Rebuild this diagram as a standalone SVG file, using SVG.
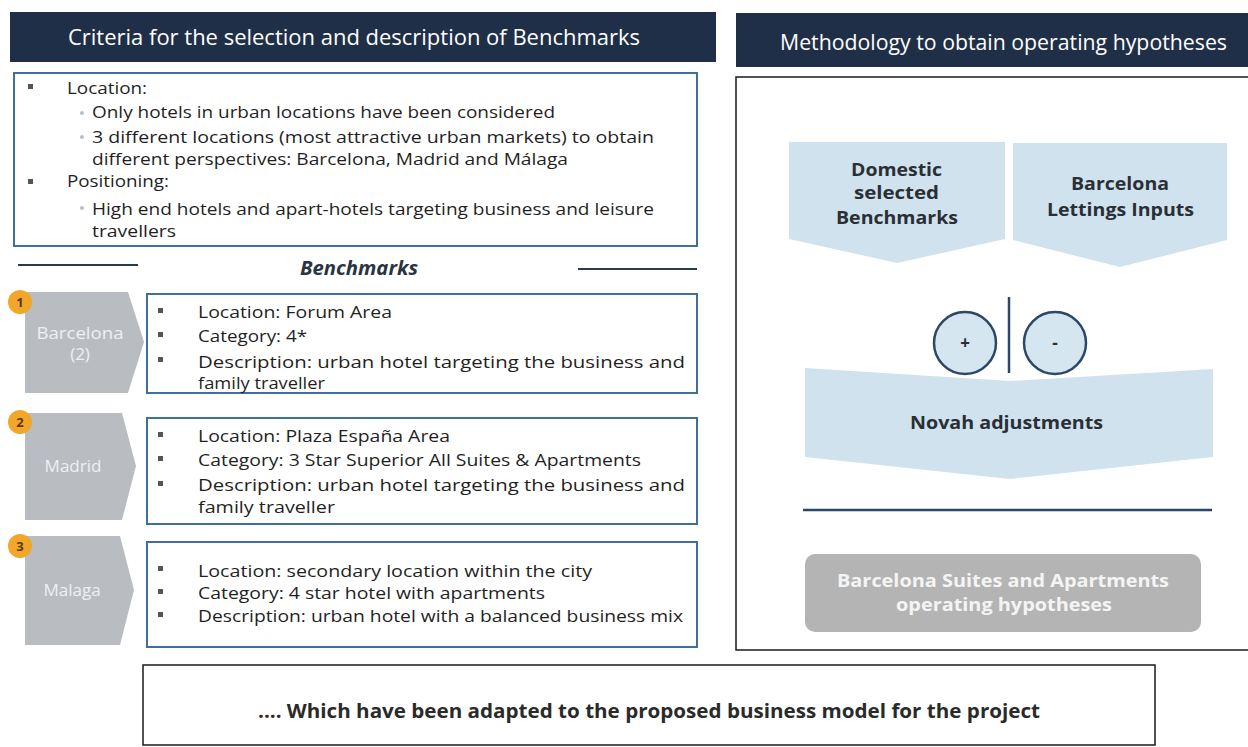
<svg xmlns="http://www.w3.org/2000/svg" width="1248" height="747" viewBox="0 0 1248 747">
<style>
text{font-family:"Open Sans","Noto Sans","Liberation Sans",sans-serif;fill:#1f1f1f}
.hdr{fill:#1f2f47}
.hdrt{fill:#ffffff;font-size:21.5px}
.box{fill:#fff;stroke:#3f6f9c;stroke-width:2}
.body{font-size:17px}
.bul{fill:#555}
.sub{fill:#b5c0c8}
.chev{fill:#b9bdc2}
.chevt{fill:#eef0f2;font-size:17px;text-anchor:middle}
.num{fill:#f2a62a}
.numt{font-size:13px;font-weight:bold;text-anchor:middle;fill:#5a3a00}
.lb{fill:#d0e2ed}
.bold{font-weight:bold;font-size:17.5px;fill:#2a2f36}
.navy{stroke:#2b4866;stroke-width:2.5;fill:none}
</style>

<g id="criteria-header">
<rect class="hdr" x="10" y="12" width="706" height="50"/>
<text class="hdrt" x="68" y="45" textLength="572" lengthAdjust="spacingAndGlyphs">Criteria for the selection and description of Benchmarks</text>
</g>

<g id="criteria">
<rect class="box" x="14" y="73" width="683" height="173"/>
<rect class="bul" x="28" y="84" width="5" height="5"/>
<text class="body" x="67" y="94" textLength="80" lengthAdjust="spacingAndGlyphs">Location:</text>
<circle class="sub" cx="82" cy="113" r="2"/>
<text class="body" x="92" y="118" textLength="463" lengthAdjust="spacingAndGlyphs">Only hotels in urban locations have been considered</text>
<circle class="sub" cx="82" cy="137" r="2"/>
<text class="body" x="92" y="143" textLength="562" lengthAdjust="spacingAndGlyphs">3 different locations (most attractive urban markets) to obtain</text>
<text class="body" x="92" y="165" textLength="476" lengthAdjust="spacingAndGlyphs">different perspectives: Barcelona, Madrid and Málaga</text>
<rect class="bul" x="28" y="179" width="5" height="5"/>
<text class="body" x="67" y="187" textLength="102" lengthAdjust="spacingAndGlyphs">Positioning:</text>
<circle class="sub" cx="82" cy="208" r="2"/>
<text class="body" x="92" y="215" textLength="562" lengthAdjust="spacingAndGlyphs">High end hotels and apart-hotels targeting business and leisure</text>
<text class="body" x="92" y="237" textLength="84" lengthAdjust="spacingAndGlyphs">travellers</text>
</g>

<g id="benchmarks-title">
<line x1="18" y1="265" x2="138" y2="265" stroke="#2a3a50" stroke-width="2"/>
<line x1="578" y1="269" x2="697" y2="269" stroke="#2a3a50" stroke-width="2"/>
<text x="300" y="275" textLength="118" lengthAdjust="spacingAndGlyphs" style="font-size:20px;font-weight:bold;font-style:italic;fill:#2a3340">Benchmarks</text>
</g>

<g id="bench-1">
<polygon class="chev" points="25,292 128,292 144,342 128,393 25,393"/>
<circle class="num" cx="20" cy="302" r="12"/>
<text class="numt" x="20" y="307">1</text>
<text class="chevt" x="80" y="339" textLength="87" lengthAdjust="spacingAndGlyphs">Barcelona</text>
<text class="chevt" x="80" y="360">(2)</text>
<rect class="box" x="147" y="294" width="550" height="99"/>
<rect class="bul" x="158" y="308" width="5" height="5"/>
<text class="body" x="198" y="318" textLength="194" lengthAdjust="spacingAndGlyphs">Location: Forum Area</text>
<rect class="bul" x="158" y="332" width="5" height="5"/>
<text class="body" x="198" y="342" textLength="109" lengthAdjust="spacingAndGlyphs">Category: 4*</text>
<rect class="bul" x="158" y="357" width="5" height="5"/>
<text class="body" x="198" y="368" textLength="487" lengthAdjust="spacingAndGlyphs">Description: urban hotel targeting the business and</text>
<text class="body" x="198" y="389" textLength="127" lengthAdjust="spacingAndGlyphs">family traveller</text>
</g>

<g id="bench-2">
<polygon class="chev" points="25,413 122,413 136,466 122,520 25,520"/>
<circle class="num" cx="20" cy="422" r="12"/>
<text class="numt" x="20" y="427">2</text>
<text class="chevt" x="73" y="472">Madrid</text>
<rect class="box" x="147" y="418" width="550" height="106"/>
<rect class="bul" x="158" y="432" width="5" height="5"/>
<text class="body" x="198" y="442" textLength="252" lengthAdjust="spacingAndGlyphs">Location: Plaza España Area</text>
<rect class="bul" x="158" y="456" width="5" height="5"/>
<text class="body" x="198" y="466" textLength="443" lengthAdjust="spacingAndGlyphs">Category: 3 Star Superior All Suites &amp; Apartments</text>
<rect class="bul" x="158" y="481" width="5" height="5"/>
<text class="body" x="198" y="491" textLength="487" lengthAdjust="spacingAndGlyphs">Description: urban hotel targeting the business and</text>
<text class="body" x="198" y="513" textLength="137" lengthAdjust="spacingAndGlyphs">family traveller</text>
</g>

<g id="bench-3">
<polygon class="chev" points="25,536 120,536 134,590 120,645 25,645"/>
<circle class="num" cx="20" cy="546" r="12"/>
<text class="numt" x="20" y="551">3</text>
<text class="chevt" x="72" y="596">Malaga</text>
<rect class="box" x="147" y="542" width="550" height="105"/>
<rect class="bul" x="158" y="566" width="5" height="5"/>
<text class="body" x="198" y="577" textLength="394" lengthAdjust="spacingAndGlyphs">Location: secondary location within the city</text>
<rect class="bul" x="158" y="589" width="5" height="5"/>
<text class="body" x="198" y="599" textLength="347" lengthAdjust="spacingAndGlyphs">Category: 4 star hotel with apartments</text>
<rect class="bul" x="158" y="612" width="5" height="5"/>
<text class="body" x="198" y="622" textLength="485" lengthAdjust="spacingAndGlyphs">Description: urban hotel with a balanced business mix</text>
</g>

<g id="method-header">
<rect class="hdr" x="736" y="13" width="512" height="54"/>
<text class="hdrt" x="780" y="50" textLength="447" lengthAdjust="spacingAndGlyphs">Methodology to obtain operating hypotheses</text>
</g>

<g id="method">
<rect x="736" y="77" width="520" height="573" fill="#fff" stroke="#1a1a1a" stroke-width="1.5"/>
</g>

<g id="domestic">
<polygon class="lb" points="789,142 1005,142 1005,239 897,263 789,239"/>
<text class="bold" x="851" y="176" textLength="91" lengthAdjust="spacingAndGlyphs">Domestic</text>
<text class="bold" x="854" y="199" textLength="85" lengthAdjust="spacingAndGlyphs">selected</text>
<text class="bold" x="836" y="224" textLength="122" lengthAdjust="spacingAndGlyphs">Benchmarks</text>
</g>

<g id="lettings">
<polygon class="lb" points="1013,143 1227,143 1227,240 1120,267 1013,240"/>
<text class="bold" x="1071" y="190" textLength="98" lengthAdjust="spacingAndGlyphs">Barcelona</text>
<text class="bold" x="1047" y="216" textLength="147" lengthAdjust="spacingAndGlyphs">Lettings Inputs</text>
</g>

<g id="novah">
<polygon class="lb" points="805,368 1010,381 1213,369 1213,457 1010,479 805,457"/>
<text class="bold" x="910" y="429" textLength="193" lengthAdjust="spacingAndGlyphs">Novah adjustments</text>
</g>

<g id="plus">
<circle cx="965" cy="343" r="31" fill="#d6e6f0" stroke="#2b4866" stroke-width="2.5"/>
<text x="965" y="349" text-anchor="middle" style="font-size:17px;font-weight:bold;fill:#2a2f36">+</text>
</g>

<g id="minus">
<circle cx="1055" cy="343" r="31" fill="#d6e6f0" stroke="#2b4866" stroke-width="2.5"/>
<text x="1055" y="349" text-anchor="middle" style="font-size:17px;font-weight:bold;fill:#2a2f36">-</text>
</g>

<g id="hypotheses">
<rect x="805" y="554" width="396" height="78" rx="10" fill="#b4b4b4"/>
<text x="837" y="587" textLength="332" lengthAdjust="spacingAndGlyphs" style="font-size:17.5px;font-weight:bold;fill:#f4f4f4">Barcelona Suites and Apartments</text>
<text x="896" y="611" textLength="216" lengthAdjust="spacingAndGlyphs" style="font-size:17.5px;font-weight:bold;fill:#f4f4f4">operating hypotheses</text>
</g>

<g id="connectors">
<line class="navy" x1="1009" y1="297" x2="1009" y2="373"/>
<line class="navy" x1="803" y1="510" x2="1212" y2="510"/>
</g>

<g id="conclusion">
<rect x="143" y="665" width="1012" height="80" fill="#fff" stroke="#1a1a1a" stroke-width="1.5"/>
<text x="258" y="718" textLength="782" lengthAdjust="spacingAndGlyphs" style="font-size:20px;font-weight:bold;fill:#2a2a2a">.... Which have been adapted to the proposed business model for the project</text>
</g>
</svg>
